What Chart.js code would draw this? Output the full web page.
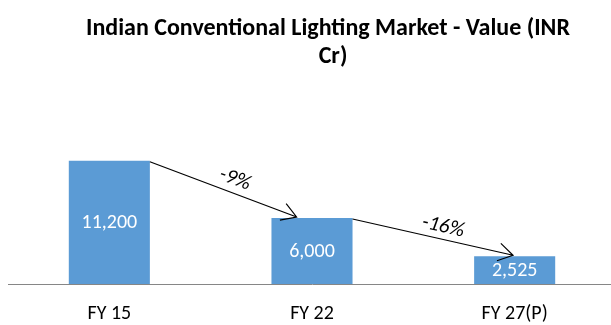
<!DOCTYPE html>
<html>
<head>
<meta charset="utf-8">
<script src="https://cdn.jsdelivr.net/npm/chart.js@4.4.1/dist/chart.umd.min.js"></script>
<style>
  html, body { margin: 0; padding: 0; background: #fff; overflow: hidden; }
  #wrap { width: 616px; height: 325px; }
</style>
</head>
<body>
<div id="wrap"><canvas id="chart" width="616" height="325"></canvas></div>
<script>
const years = ['FY 15', 'FY 22', 'FY 27(P)'];
const marketValue = [11200, 6000, 2525];
const growthLabels = ['-9%', '-16%'];
const arrowTipShift = [0.31, 0.48]; // how far into the next bar the arrow points

const FONT = "Carlito, Lato, 'Open Sans', sans-serif";
const ctx = document.getElementById("chart");

// white value labels in the middle of each bar
const barValues = {
    id: 'barValues',
    afterDatasetsDraw(chart) {
        const c = chart.ctx;
        const meta = chart.getDatasetMeta(0);
        c.save();
        c.fillStyle = '#ffffff';
        c.font = "20px " + FONT;
        c.textAlign = 'center';
        c.textBaseline = 'middle';
        meta.data.forEach((bar, i) => {
            const mid = (bar.y + bar.base) / 2;
            c.fillText(marketValue[i].toLocaleString('en-US'), bar.x, mid + 1);
        });
        c.restore();
    }
};

// arrows between bars with growth rate text
const growthArrows = {
    id: 'growthArrows',
    afterDatasetsDraw(chart) {
        const c = chart.ctx;
        const bars = chart.getDatasetMeta(0).data;
        c.save();
        c.strokeStyle = '#000';
        c.lineWidth = 1.2;
        for (let i = 0; i < bars.length - 1; i++) {
            const a = bars[i], b = bars[i + 1];
            const x0 = a.x + a.width / 2, y0 = a.y + 1;
            const x1 = b.x - b.width / 2 + b.width * arrowTipShift[i], y1 = b.y - 1;
            const ang = Math.atan2(y1 - y0, x1 - x0);
            c.beginPath();
            c.moveTo(x0, y0);
            c.lineTo(x1, y1);
            const h = 17, spread = 0.55;
            c.moveTo(x1 - h * Math.cos(ang - spread), y1 - h * Math.sin(ang - spread));
            c.lineTo(x1, y1);
            c.lineTo(x1 - h * Math.cos(ang + spread), y1 - h * Math.sin(ang + spread));
            c.stroke();

            const mx = (x0 + x1) / 2, my = (y0 + y1) / 2;
            c.save();
            c.translate(mx + 8, my);
            c.rotate(ang);
            c.fillStyle = '#000';
            c.font = "italic 21px " + FONT;
            c.textAlign = 'center';
            c.textBaseline = 'bottom';
            c.fillText(growthLabels[i], 0, 0);
            c.restore();
        }
        c.restore();
    }
};

// two-line bold heading
const heading = {
    id: 'heading',
    afterDraw(chart) {
        const c = chart.ctx;
        c.save();
        c.fillStyle = '#000';
        c.font = "bold 24px " + FONT;
        c.textAlign = 'center';
        c.textBaseline = 'middle';
        c.fillText('Indian Conventional Lighting Market - Value (INR', 328, 29);
        c.fillText('Cr)', 333, 57);
        c.restore();
    }
};

const chart = new Chart(ctx, {
    type: 'bar',
    data: {
        labels: years,
        datasets: [{
            data: marketValue,
            backgroundColor: '#5b9bd5',
            borderWidth: 0,
            barPercentage: 0.4,
            categoryPercentage: 1
        }]
    },
    options: {
        responsive: false,
        animation: false,
        layout: { padding: { top: 108, left: 8, right: 0, bottom: 0 } },
        plugins: {
            legend: { display: false },
            tooltip: { enabled: false }
        },
        scales: {
            x: {
                grid: { display: false, drawTicks: false },
                border: { display: true, color: '#868686', width: 1 },
                afterFit(scale) { scale.height = 41; },
                ticks: {
                    color: '#000',
                    padding: 18,
                    maxRotation: 0,
                    font: { family: FONT, size: 20 }
                }
            },
            y: {
                display: false,
                min: 0,
                max: 16000
            }
        }
    },
    plugins: [barValues, growthArrows, heading]
});
</script>
</body>
</html>
